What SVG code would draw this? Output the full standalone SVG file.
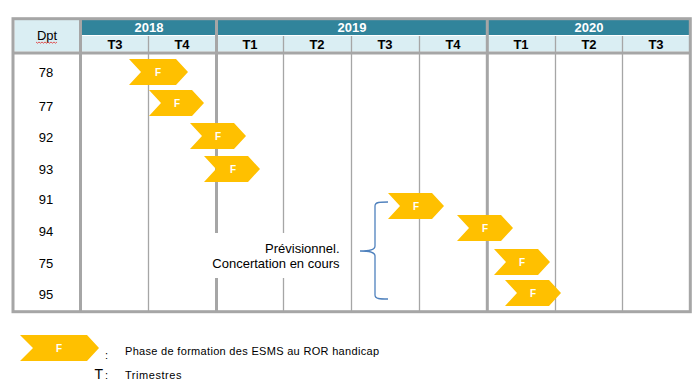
<svg xmlns="http://www.w3.org/2000/svg" width="699" height="388" viewBox="0 0 699 388">
<defs>
<style>
.thick{stroke:#a6a6a6;stroke-width:3;fill:none}
.thin{stroke:#a6a6a6;stroke-width:1.3;fill:none}
.yr{font-family:"Liberation Sans",Arial,sans-serif;font-size:13px;font-weight:bold;fill:#ffffff;text-anchor:middle}
.tq{font-family:"Liberation Sans",Arial,sans-serif;font-size:13px;font-weight:bold;fill:#000000;text-anchor:middle}
.dp{font-family:"Liberation Sans",Arial,sans-serif;font-size:13px;fill:#000000;text-anchor:middle}
.chev{fill:#ffc000}
.f{font-family:"Liberation Sans",Arial,sans-serif;font-size:10px;font-weight:bold;fill:#ffffff;text-anchor:middle}
.note{font-family:"Liberation Sans",Arial,sans-serif;font-size:13px;fill:#000000;text-anchor:end}
.leg{font-family:"Liberation Sans",Arial,sans-serif;font-size:11px;fill:#000000}
</style>
</defs>
<rect width="699" height="388" fill="#ffffff"/>
<g id="header">
<rect x="14.5" y="20" width="65" height="31.5" fill="#daeef3"/>
<rect x="82" y="20" width="607.5" height="15" fill="#31849b"/>
<rect x="82" y="36" width="607.5" height="15.5" fill="#daeef3"/>
<text class="dp" x="47" y="40">Dpt</text>
<path d="M36 42 l1.5 1.2 l1.5 -1.2 l1.5 1.2 l1.5 -1.2 l1.5 1.2 l1.5 -1.2 l1.5 1.2 l1.5 -1.2 l1.5 1.2 l1.5 -1.2 l1.5 1.2 l1.5 -1.2 l1.5 1.2 l1.5 -1.2" stroke="#e03030" stroke-width="0.8" fill="none"/>
<text class="yr" x="149" y="32">2018</text>
<text class="yr" x="352" y="32">2019</text>
<text class="yr" x="589" y="32">2020</text>
<text class="tq" x="115" y="48.5">T3</text>
<text class="tq" x="182" y="48.5">T4</text>
<text class="tq" x="250" y="48.5">T1</text>
<text class="tq" x="317" y="48.5">T2</text>
<text class="tq" x="385" y="48.5">T3</text>
<text class="tq" x="453" y="48.5">T4</text>
<text class="tq" x="521" y="48.5">T1</text>
<text class="tq" x="589" y="48.5">T2</text>
<text class="tq" x="656" y="48.5">T3</text>
</g>
<g id="grid">
<path class="thin" d="M148.5 36V311 M283.5 36V311 M351.5 36V311 M419.5 36V311 M555.5 36V311 M622.5 36V311"/>
<path class="thick" d="M80.5 18.7V311.7 M216.5 18.7V311.7 M487.3 18.7V311.7 M13 53H690.3"/>
<rect class="thick" x="13" y="18.7" width="677.3" height="293"/>
</g>
<g id="dpt-labels">
<text class="dp" x="46" y="77">78</text>
<text class="dp" x="46" y="111">77</text>
<text class="dp" x="46" y="142">92</text>
<text class="dp" x="46" y="174">93</text>
<text class="dp" x="46" y="204">91</text>
<text class="dp" x="46" y="236">94</text>
<text class="dp" x="46" y="268">75</text>
<text class="dp" x="46" y="299">95</text>
</g>
<g id="note">
<rect x="205" y="233" width="140" height="45" fill="#ffffff"/>
<text class="note" x="339.5" y="253">Prévisionnel.</text>
<text class="note" x="339.5" y="268">Concertation en cours</text>
</g>
<g id="connectors">
<path id="brace" d="M388 202 C380 202 375 202 375 206 V246 C375 250 370 251 360 251 C370 251 375 252 375 256 V295 C375 299 380 299 388 299" stroke="#4f81bd" stroke-width="1.3" fill="none"/>
</g>
<g id="chev-78"><path class="chev" d="M129 59H176L188 72L176 85H129L141 72Z"/><text class="f" x="158" y="75.5">F</text></g>
<g id="chev-77"><path class="chev" d="M149 90H192L204 103L192 116H149L161 103Z"/><text class="f" x="177" y="106.5">F</text></g>
<g id="chev-92"><path class="chev" d="M190 123H234L246 136L234 149H190L202 136Z"/><text class="f" x="218" y="139.5">F</text></g>
<g id="chev-93"><path class="chev" d="M204 156H248L260 169L248 182H204L216 169Z"/><text class="f" x="233" y="172.5">F</text></g>
<g id="chev-91"><path class="chev" d="M388 193H432L444 206L432 219H388L400 206Z"/><text class="f" x="416" y="209.5">F</text></g>
<g id="chev-94"><path class="chev" d="M457 215H501L513 228L501 241H457L469 228Z"/><text class="f" x="485" y="231.5">F</text></g>
<g id="chev-75"><path class="chev" d="M494 249H538L550 262L538 275H494L506 262Z"/><text class="f" x="522" y="265.5">F</text></g>
<g id="chev-95"><path class="chev" d="M505 280H549L561 293L549 306H505L517 293Z"/><text class="f" x="533" y="296.5">F</text></g>
<g id="legend">
<path class="chev" d="M20 335H87L99 348L87 361H20L33 348Z"/>
<text class="f" x="59" y="351.5">F</text>
<text class="leg" x="105" y="359">:</text>
<text class="leg" x="125" y="355" textLength="254" lengthAdjust="spacing">Phase de formation  des ESMS au  ROR handicap</text>
<text class="leg" x="94.5" y="379" style="font-size:14px">T</text>
<text class="leg" x="105" y="379">:</text>
<text class="leg" x="125" y="379" textLength="56.5" lengthAdjust="spacing">Trimestres</text>
</g>
</svg>
